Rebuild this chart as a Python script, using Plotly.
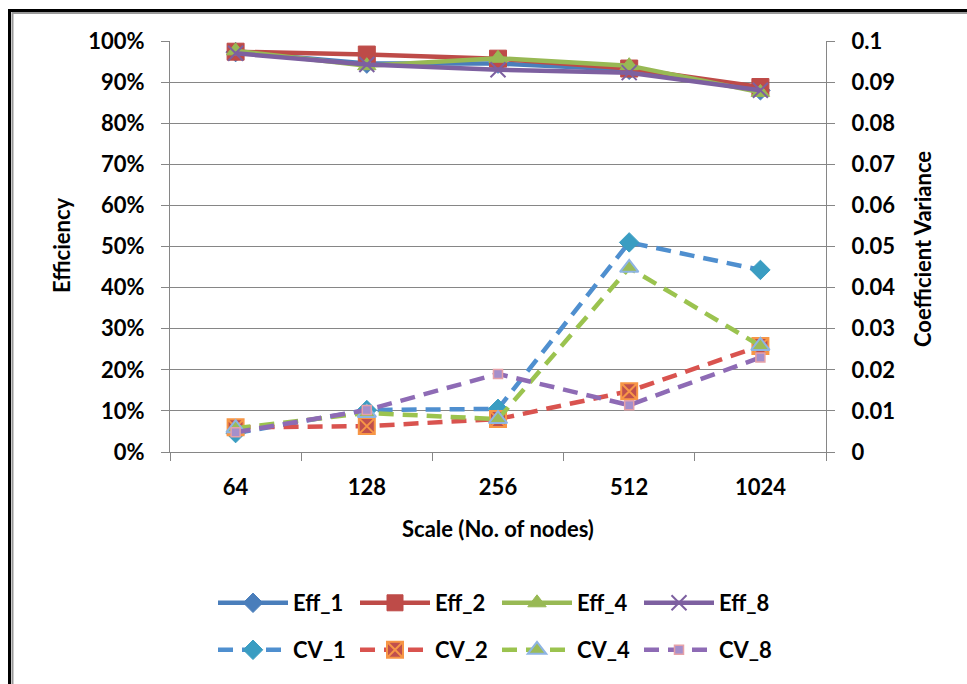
import plotly.graph_objects as go

scales = ["64", "128", "256", "512", "1024"]

eff_1 = [0.973, 0.945, 0.945, 0.930, 0.880]
eff_2 = [0.974, 0.967, 0.957, 0.933, 0.888]
eff_4 = [0.976, 0.940, 0.958, 0.940, 0.875]
eff_8 = [0.970, 0.943, 0.930, 0.923, 0.880]

cv_1 = [0.0046, 0.0102, 0.0105, 0.0510, 0.0443]
cv_2 = [0.0060, 0.0063, 0.0080, 0.0148, 0.0258]
cv_4 = [0.0058, 0.0095, 0.0080, 0.0448, 0.0258]
cv_8 = [0.0048, 0.0102, 0.0190, 0.0114, 0.0230]

W, H = 967, 684
L, R, T, B = 170, 826, 41, 452
PW, PH = R - L, B - T

def px(x):
    return (x - L) / PW

def py(y):
    return (B - y) / PH

BLUE = "#4A7EBB"
RED = "#BE4B48"
GREEN = "#98B954"
PURPLE = "#7D60A0"
CV_BLUE = "#4F8FCF"
CV_RED = "#D9534F"
CV_GREEN = "#9BC34F"
CV_PURPLE = "#8E6BB5"

FONT = "Lato, 'Open Sans', sans-serif"
FS = 22

fig = go.Figure()

eff_specs = [
    ("Eff_1", eff_1, BLUE, dict(symbol="diamond", size=15, color=BLUE, line=dict(color=BLUE, width=1))),
    ("Eff_2", eff_2, RED, dict(symbol="square", size=17, color=RED, line=dict(color=RED, width=1))),
    ("Eff_4", eff_4, GREEN, dict(symbol="triangle-up", size=16, color=GREEN, line=dict(color=GREEN, width=1))),
    ("Eff_8", eff_8, PURPLE, dict(symbol="x-thin", size=15, color=PURPLE, line=dict(color=PURPLE, width=2))),
]
for name, vals, col, mk in eff_specs:
    fig.add_trace(go.Scatter(
        x=scales, y=vals, name=name, mode="lines+markers",
        line=dict(color=col, width=4.5), marker=mk, legend="legend",
        yaxis="y",
    ))

cv_specs = [
    ("CV_1", cv_1, CV_BLUE, dict(symbol="diamond", size=15, color="#3A9DC2", line=dict(color="#3A9DC2", width=1))),
    ("CV_2", cv_2, CV_RED, dict(symbol="square-x", size=16, color="#C0504D", line=dict(color="#F79646", width=2))),
    ("CV_4", cv_4, CV_GREEN, dict(symbol="triangle-up", size=16, color="#9BBB59", line=dict(color="#8EB4E3", width=2))),
    ("CV_8", cv_8, CV_PURPLE, dict(symbol="square", size=9, color="#A58FCB", line=dict(color="#E6A1A8", width=1.5))),
]
for name, vals, col, mk in cv_specs:
    fig.add_trace(go.Scatter(
        x=scales, y=vals, name=name, mode="lines+markers",
        line=dict(color=col, width=4.5, dash="15px,9px"), marker=mk,
        legend="legend2", yaxis="y2",
    ))

GRID = "#868686"
tfont = dict(family=FONT, size=FS, color="black", weight="bold")

fig.update_layout(
    width=W, height=H,
    margin=dict(l=L, r=W - R, t=T, b=H - B, pad=0),
    paper_bgcolor="white", plot_bgcolor="white",
    font=tfont,
    showlegend=True,
    xaxis=dict(
        type="category", categoryorder="array", categoryarray=scales,
        range=[-0.5, 4.5], showgrid=False, showline=True, linecolor=GRID, linewidth=1,
        ticks="outside", tickson="boundaries", ticklen=8, tickcolor=GRID,
        ticklabelstandoff=16, zeroline=False,
    ),
    yaxis=dict(
        range=[0, 1], dtick=0.1, tickformat=".0%", showgrid=True, gridcolor=GRID, gridwidth=1,
        showline=True, linecolor=GRID, linewidth=1, ticks="outside", ticklen=8, tickcolor=GRID,
        zeroline=False, ticklabelstandoff=12,
    ),
    yaxis2=dict(
        range=[0, 0.1], dtick=0.01, overlaying="y", side="right", showgrid=False,
        showline=True, linecolor=GRID, linewidth=1, ticks="outside", ticklen=8, tickcolor=GRID,
        zeroline=False, ticklabelstandoff=12,
    ),
    legend=dict(
        orientation="h", x=px(213), xanchor="left", y=py(603), yanchor="middle",
        itemwidth=70, entrywidth=57, bgcolor="rgba(0,0,0,0)", borderwidth=0,
        font=tfont, traceorder="normal",
    ),
    legend2=dict(
        orientation="h", x=px(213), xanchor="left", y=py(650), yanchor="middle",
        itemwidth=70, entrywidth=57, bgcolor="rgba(0,0,0,0)", borderwidth=0,
        font=tfont, traceorder="normal",
    ),
    annotations=[
        dict(text="Efficiency", x=px(62), y=py(245), xref="paper", yref="paper",
             xanchor="center", yanchor="middle",
             showarrow=False, textangle=-90, font=tfont),
        dict(text="Coefficient Variance", x=px(922), y=py(249), xref="paper", yref="paper",
             xanchor="center", yanchor="middle",
             showarrow=False, textangle=-90, font=tfont),
        dict(text="Scale (No. of nodes)", x=px(498), y=py(528), xref="paper", yref="paper",
             xanchor="center", yanchor="middle",
             showarrow=False, font=tfont),
    ],
    shapes=[
        dict(type="rect", xref="paper", yref="paper", x0=px(9.5), x1=px(1000), y0=py(10.5), y1=py(720),
             line=dict(color="black", width=3), fillcolor="rgba(0,0,0,0)", layer="below"),
        dict(type="line", xref="paper", yref="paper", x0=px(12.5), x1=px(12.5), y0=py(12), y1=py(720),
             line=dict(color="#999999", width=2), layer="below"),
        dict(type="line", xref="paper", yref="paper", x0=px(12), x1=px(1000), y0=py(13), y1=py(13),
             line=dict(color="#999999", width=2), layer="below"),
    ],
)

fig.write_html("out.html")
